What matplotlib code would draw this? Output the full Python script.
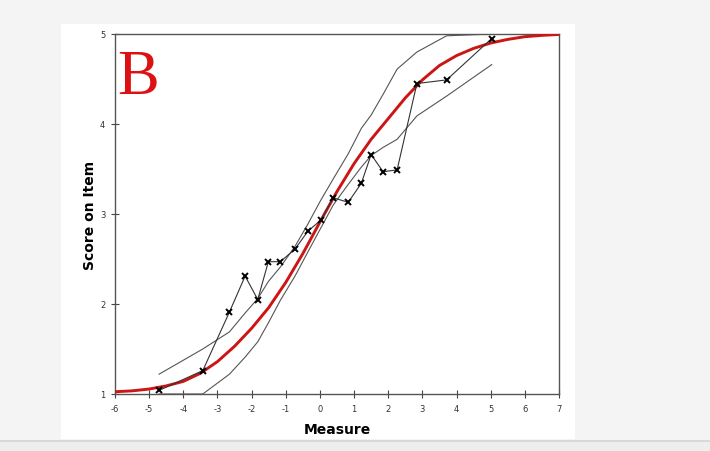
import matplotlib.pyplot as plt
from matplotlib.patches import Rectangle

plt.rcParams["axes.unicode_minus"] = False

# model curve
model_x = [-6, -5.5, -5, -4.5, -4, -3.5, -3, -2.5, -2, -1.5, -1, -0.5, 0,
           0.5, 1, 1.5, 2, 2.5, 3, 3.5, 4, 4.5, 5, 5.5, 6, 6.5, 7]
model_y = [1.025, 1.035, 1.055, 1.09, 1.14, 1.23, 1.36, 1.53, 1.73, 1.96, 2.24, 2.56, 2.91,
           3.25, 3.56, 3.83, 4.06, 4.29, 4.49, 4.65, 4.76, 4.84, 4.90, 4.94, 4.97, 4.985, 4.995]

# empirical points
emp_x = [-4.71, -3.43, -2.65, -2.19, -1.82, -1.51, -1.16, -0.73, -0.35, 0.02,
         0.39, 0.83, 1.21, 1.50, 1.85, 2.26, 2.84, 3.71, 5.03]
emp_y = [1.04, 1.26, 1.91, 2.31, 2.05, 2.47, 2.47, 2.61, 2.81, 2.93,
         3.18, 3.13, 3.34, 3.66, 3.47, 3.49, 4.45, 4.49, 4.95]

# confidence band
upper_y = [1.22, 1.50, 1.69, 1.90, 2.06, 2.25, 2.41, 2.64, 2.89, 3.15,
           3.39, 3.67, 3.95, 4.10, 4.33, 4.61, 4.80, 4.98, 5.0]
lower_y = [1.0, 1.0, 1.22, 1.41, 1.58, 1.79, 2.04, 2.31, 2.58, 2.84,
           3.10, 3.33, 3.52, 3.65, 3.74, 3.83, 4.09, 4.31, 4.66]

x_ticks = list(range(-6, 8))
y_ticks = [1, 2, 3, 4, 5]

fig = plt.figure(figsize=(7.1, 4.52), dpi=100, facecolor="#f4f4f4")
# white panel behind the chart
fig.patches.append(Rectangle((61 / 710, 1 - 440 / 452), 514 / 710, 415 / 452,
                             transform=fig.transFigure, facecolor="white",
                             edgecolor="none", zorder=-2))
# grey strip along the bottom
fig.patches.append(Rectangle((0, 0), 1, 9 / 452, transform=fig.transFigure,
                             facecolor="#eeeeee", edgecolor="none", zorder=-2))
fig.patches.append(Rectangle((0, 9 / 452), 1, 2 / 452, transform=fig.transFigure,
                             facecolor="#d8d8d8", edgecolor="none", zorder=-2))

ax = fig.add_axes([115 / 710, 1 - 395 / 452, 444 / 710, 360 / 452])
ax.set_zorder(1)
ax.set_facecolor("white")

ax.plot(emp_x, upper_y, color="#555555", lw=0.8, zorder=2)
ax.plot(emp_x, lower_y, color="#555555", lw=0.8, zorder=2)
ax.plot(model_x, model_y, color="#cc1515", lw=2.1, zorder=3, solid_capstyle="butt")
ax.plot(emp_x, emp_y, color="#333333", lw=0.8, marker="x", ms=4.5, mew=1.4,
        mec="black", zorder=4)

ax.set_xlim(-6, 7)
ax.set_ylim(1, 5)
ax.set_xticks(x_ticks)
ax.set_yticks(y_ticks)
ax.tick_params(direction="inout", length=6, width=0.8, color="#444444",
               labelsize=6, labelcolor="#333333", pad=4)
for s in ax.spines.values():
    s.set_color("#555555")
    s.set_linewidth(1.0)

ax.set_xlabel("Measure", fontsize=10, fontweight="bold", labelpad=7)
ax.set_ylabel("Score on Item", fontsize=10, fontweight="bold", labelpad=2)

ax.text(0.005, 0.836, "B", transform=ax.transAxes, color="#dd1111",
        fontsize=45, family="Liberation Serif", ha="left", va="baseline")

fig.savefig("out.png", dpi=100, facecolor=fig.get_facecolor())
